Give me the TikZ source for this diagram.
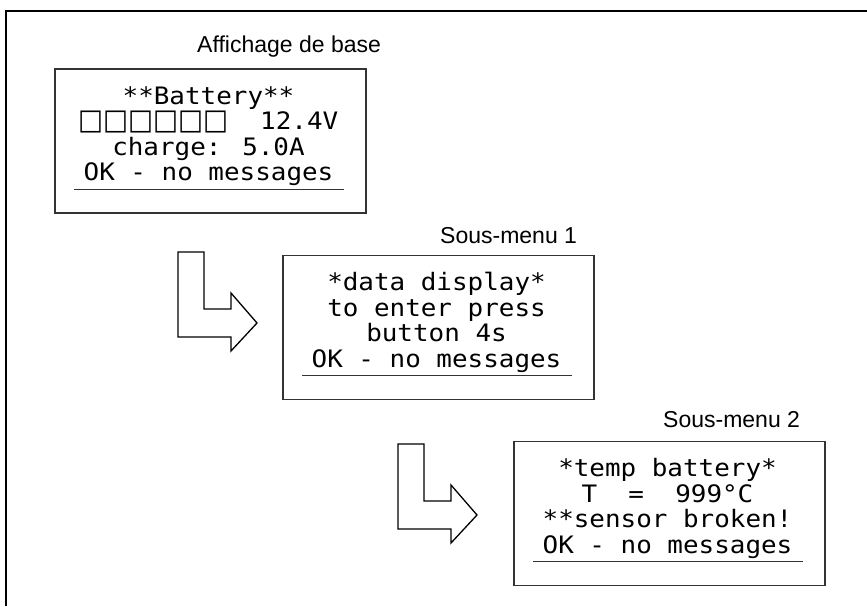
\documentclass[tikz,border=0pt]{standalone}
\usepackage{fontspec}
\usepackage{tikz}
\usetikzlibrary{calc, positioning}
\newfontfamily\lcdfont[FakeStretch=1.08]{DejaVu Sans Mono}
\newfontfamily\squarefont[Scale=1.2,FakeStretch=0.92]{DejaVu Sans}
\newfontfamily\labelfont{Liberation Sans}

\begin{document}
\begin{tikzpicture}[x=1pt,y=-1pt,
        screen/.style={draw=black!80, line width=1.3pt, minimum width=311pt, minimum height=144pt, inner sep=0},
        lcdline/.style={font=\lcdfont\fontsize{24}{25}\selectfont, inner sep=0, anchor=base},
        lcdrule/.style={draw=black!80, line width=1pt},
        caption/.style={font=\labelfont\fontsize{23}{27}\selectfont, inner sep=0, anchor=base west},
        bentarrow/.style={draw=black, line width=1.3pt, line join=miter, fill=white}]
    \useasboundingbox (0,0) rectangle (867,606);

    % outer frame
    \draw[line width=2pt] (6,606) -- (6,11) -- (867,11);

    % screens
    \node[screen] (box1) at (210.5,141) {};
    \node[screen] (box2) at (438.5,327.5) {};
    \node[screen] (box3) at (669.5,513.5) {};

    % screen titles
    \node[caption] (cap1) at (197,52) {Affichage de base};
    \node[caption] (cap2) at (440,243) {Sous-menu 1};
    \node[caption] (cap3) at (663,427) {Sous-menu 2};

    % screen texts
    \foreach \i/\m in {1/{1/{**Battery**},2/{{\squarefont □□□□□□}\ \ 12.4V},3/{charge: 5.0A},4/{OK - no messages}},2/{1/{*data display*},2/{to enter press},3/{button 4s},4/{OK - no messages}},3/{1/{*temp battery*},2/{T\ \ =\ \ 999°C},3/{**sensor broken!},4/{OK - no messages}}}
    {
        \foreach \j/\k in \m
        {
            \node[lcdline] (txt\i\j) at ($(box\i.north)+(-2,10.5+25.5*\j)$) {\k};
        }
        \draw[lcdrule] ($(box\i.north west)+(20,121)$) -- ($(box\i.north east)+(-23,121)$);
    }

    % arrows between screens
    \foreach \ax/\ay in {178/252,398/444}
    {
        \draw[bentarrow] (\ax,\ay) -- ++(26,0) -- ++(0,57) -- ++(27,0) -- ++(0,-16) -- ++(26,30) -- ++(-26,28) -- ++(0,-14) -- ++(-53,0) -- cycle;
    }
\end{tikzpicture}
\end{document}
